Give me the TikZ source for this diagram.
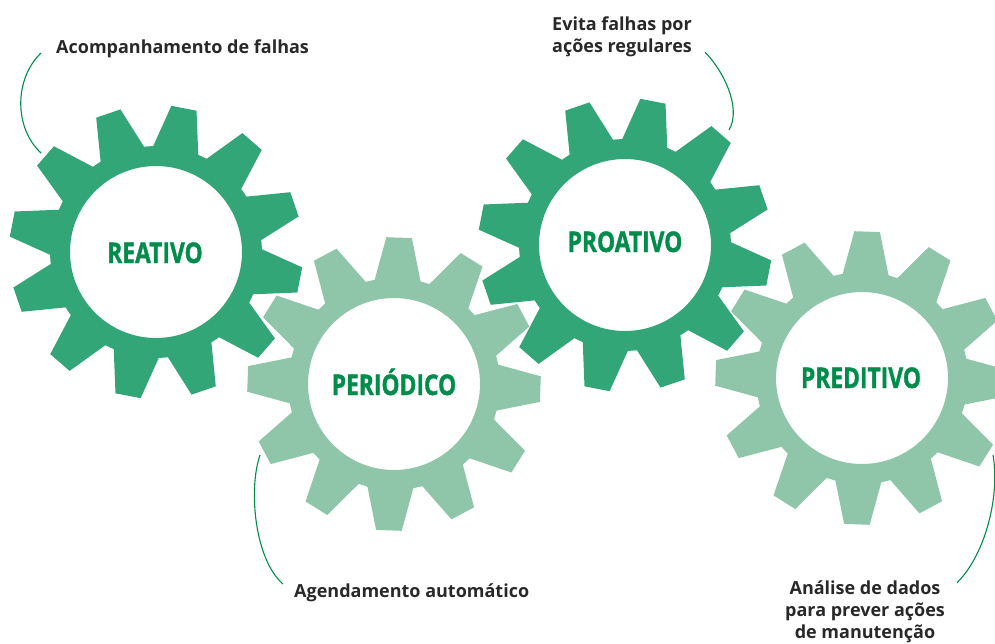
\documentclass[tikz,border=0pt]{standalone}
\usepackage{fontspec}
\setmainfont{Open Sans}
\newfontfamily\condfont[FakeStretch=0.8,FakeBold=1.2]{Open Sans}
\usetikzlibrary{calc}
\definecolor{geardark}{RGB}{51,166,119}
\definecolor{gearlight}{RGB}{143,198,170}
\definecolor{titlegreen}{RGB}{0,140,75}
\definecolor{notegray}{RGB}{40,40,40}
\tikzset{
  geartitle/.style={text=titlegreen,inner sep=0pt,anchor=base,
    font=\condfont\bfseries\fontsize{28.5}{30}\selectfont},
  note/.style={text=notegray,inner sep=0pt,align=center,
    font=\bfseries\fontsize{18}{22}\selectfont},
  lead/.style={titlegreen,line width=1.1pt},
}
% gear: centre, tooth phase, colour
\newcommand{\drawgear}[3]{%
  \begin{scope}[shift={#1}]
    \fill[#3,even odd rule] (#2-12.5:106)
      \foreach \k in {0,...,11}{
        -- ({#2+30*\k-12.5}:106) -- ({#2+30*\k-5}:147)
        -- ({#2+30*\k+5}:147) -- ({#2+30*\k+12.5}:106)}
      -- cycle (0,0) circle[radius=86];
  \end{scope}}

\begin{document}
\begin{tikzpicture}[x=1pt,y=-1pt]
  \useasboundingbox (0,0) rectangle (995,643);
  \clip (0,0) rectangle (995,643);
  % gears
  \drawgear{(394,384)}{2}{gearlight}
  \drawgear{(862,378)}{2}{gearlight}
  \drawgear{(156,252)}{11}{geardark}
  \drawgear{(625,245)}{11}{geardark}
  % titles
  \node[geartitle] (reativo) at (155,263) {REATIVO};
  \node[geartitle] (periodico) at (394,395) {PERIÓDICO};
  \node[geartitle] (proativo) at (625,252) {PROATIVO};
  \node[geartitle] (preditivo) at (861,388) {PREDITIVO};
  % notes
  \node[note,anchor=base west] (acomp) at (56,53) {Acompanhamento de falhas};
  \node[note] (evita) at (622,37) {Evita falhas por\\ações regulares};
  \node[note,anchor=base west] (agenda) at (294,597) {Agendamento automático};
  \node[note] (analise) at (865,612) {Análise de dados\\para prever ações\\de manutenção};
  % leaders
  \coordinate (reativo-end) at (41,153);
  \coordinate (proativo-end) at (729,130);
  \coordinate (periodico-end) at (260,455);
  \coordinate (preditivo-end) at (993,455);
  \draw[lead] ([xshift=-15pt]acomp.base west) .. controls +(-27,26) and +(-27,-25) .. (reativo-end);
  \draw[lead] ([shift={(13pt,5pt)}]evita.south east) .. controls +(18,18) and +(13,-22) .. (proativo-end);
  \draw[lead] ([shift={(-11pt,13pt)}]agenda.base west) .. controls +(-28,-24) and +(-12,35) .. (periodico-end);
  \draw[lead] ([shift={(12pt,-2pt)}]analise.north east) .. controls +(29,-29) and +(7,40) .. (preditivo-end);
\end{tikzpicture}
\end{document}
